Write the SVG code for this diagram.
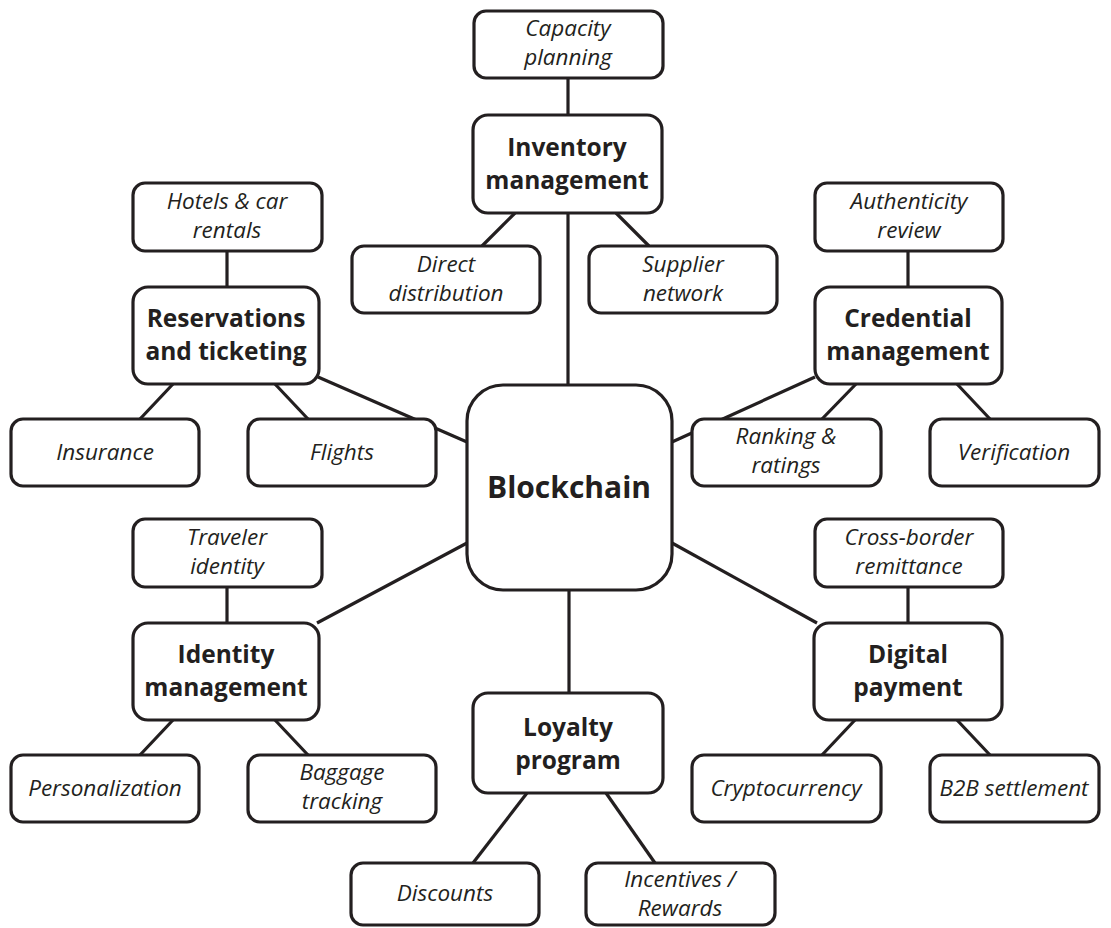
<svg xmlns="http://www.w3.org/2000/svg" width="1111" height="928" viewBox="0 0 1111 928">
<style>
.box{fill:#fff;stroke:#231f20;stroke-width:3.2}
.ln{stroke:#231f20;stroke-width:3.2;fill:none}
.it{font-family:"Open Sans","DejaVu Sans",sans-serif;font-style:italic;font-size:22.5px;fill:#231f20;text-anchor:middle}
.bd{font-family:"Open Sans","DejaVu Sans",sans-serif;font-weight:bold;font-size:24.5px;fill:#231f20;text-anchor:middle}
.main{font-family:"Open Sans","DejaVu Sans",sans-serif;font-weight:bold;font-size:30px;fill:#231f20;text-anchor:middle}
</style>
<rect width="1111" height="928" fill="#fff"/>
<g id="connectors">
<line class="ln" x1="568" y1="78" x2="568" y2="115"/>
<line class="ln" x1="515" y1="213" x2="482" y2="246"/>
<line class="ln" x1="616" y1="213" x2="649" y2="246"/>
<line class="ln" x1="568" y1="213" x2="568" y2="385"/>
<line class="ln" x1="227" y1="251" x2="227" y2="287"/>
<line class="ln" x1="173" y1="384" x2="140" y2="419"/>
<line class="ln" x1="275" y1="384" x2="308" y2="419"/>
<line class="ln" x1="318" y1="377" x2="467" y2="442"/>
<line class="ln" x1="908" y1="251" x2="908" y2="287"/>
<line class="ln" x1="856" y1="384" x2="822" y2="419"/>
<line class="ln" x1="957" y1="384" x2="990" y2="419"/>
<line class="ln" x1="815" y1="377" x2="672" y2="442"/>
<line class="ln" x1="227" y1="587" x2="227" y2="623"/>
<line class="ln" x1="173" y1="720" x2="140" y2="755"/>
<line class="ln" x1="275" y1="720" x2="308" y2="755"/>
<line class="ln" x1="317" y1="623" x2="467" y2="543"/>
<line class="ln" x1="908" y1="587" x2="908" y2="623"/>
<line class="ln" x1="855" y1="720" x2="822" y2="755"/>
<line class="ln" x1="957" y1="720" x2="990" y2="755"/>
<line class="ln" x1="817" y1="623" x2="672" y2="543"/>
<line class="ln" x1="569" y1="590" x2="569" y2="693"/>
<line class="ln" x1="527" y1="793" x2="473" y2="863"/>
<line class="ln" x1="606" y1="793" x2="655" y2="863"/>
</g>
<g id="blockchain"><rect class="box" x="467" y="385" width="205" height="205" rx="36"/><text class="main" x="569" y="498">Blockchain</text></g>
<g id="inventory"><rect class="box" x="473" y="115" width="189" height="98" rx="15"/><text class="bd" x="567" y="156">Inventory</text><text class="bd" x="567" y="189">management</text></g>
<g id="capacity"><rect class="box" x="474" y="11" width="189" height="67" rx="12"/><text class="it" x="568" y="36">Capacity</text><text class="it" x="568" y="65">planning</text></g>
<g id="direct"><rect class="box" x="352" y="246" width="188" height="67" rx="12"/><text class="it" x="446" y="272">Direct</text><text class="it" x="446" y="301">distribution</text></g>
<g id="supplier"><rect class="box" x="589" y="246" width="188" height="67" rx="12"/><text class="it" x="683" y="272">Supplier</text><text class="it" x="683" y="301">network</text></g>
<g id="reservations"><rect class="box" x="133" y="287" width="186" height="97" rx="15"/><text class="bd" x="226" y="327">Reservations</text><text class="bd" x="226" y="360">and ticketing</text></g>
<g id="hotels"><rect class="box" x="133" y="183" width="189" height="68" rx="12"/><text class="it" x="227" y="209">Hotels &amp; car</text><text class="it" x="227" y="238">rentals</text></g>
<g id="insurance"><rect class="box" x="11" y="419" width="188" height="67" rx="12"/><text class="it" x="105" y="460">Insurance</text></g>
<g id="flights"><rect class="box" x="248" y="419" width="188" height="67" rx="12"/><text class="it" x="342" y="460">Flights</text></g>
<g id="credential"><rect class="box" x="815" y="287" width="187" height="97" rx="15"/><text class="bd" x="908" y="327">Credential</text><text class="bd" x="908" y="360">management</text></g>
<g id="authenticity"><rect class="box" x="815" y="183" width="188" height="68" rx="12"/><text class="it" x="909" y="209">Authenticity</text><text class="it" x="909" y="238">review</text></g>
<g id="ranking"><rect class="box" x="692" y="419" width="189" height="67" rx="12"/><text class="it" x="786" y="444">Ranking &amp;</text><text class="it" x="786" y="473">ratings</text></g>
<g id="verification"><rect class="box" x="930" y="419" width="169" height="67" rx="12"/><text class="it" x="1014" y="460">Verification</text></g>
<g id="identity"><rect class="box" x="133" y="623" width="186" height="97" rx="15"/><text class="bd" x="226" y="663">Identity</text><text class="bd" x="226" y="696">management</text></g>
<g id="traveler"><rect class="box" x="133" y="519" width="189" height="68" rx="12"/><text class="it" x="227" y="545">Traveler</text><text class="it" x="227" y="574">identity</text></g>
<g id="personalization"><rect class="box" x="11" y="755" width="188" height="67" rx="12"/><text class="it" x="105" y="796">Personalization</text></g>
<g id="baggage"><rect class="box" x="248" y="755" width="188" height="67" rx="12"/><text class="it" x="342" y="780">Baggage</text><text class="it" x="342" y="809">tracking</text></g>
<g id="digital"><rect class="box" x="814" y="623" width="188" height="97" rx="15"/><text class="bd" x="908" y="663">Digital</text><text class="bd" x="908" y="696">payment</text></g>
<g id="crossborder"><rect class="box" x="815" y="519" width="188" height="68" rx="12"/><text class="it" x="909" y="545">Cross-border</text><text class="it" x="909" y="574">remittance</text></g>
<g id="crypto"><rect class="box" x="692" y="755" width="189" height="67" rx="12"/><text class="it" x="786" y="796">Cryptocurrency</text></g>
<g id="b2b"><rect class="box" x="930" y="755" width="169" height="67" rx="12"/><text class="it" x="1014" y="796">B2B settlement</text></g>
<g id="loyalty"><rect class="box" x="473" y="693" width="190" height="100" rx="15"/><text class="bd" x="568" y="736">Loyalty</text><text class="bd" x="568" y="769">program</text></g>
<g id="discounts"><rect class="box" x="351" y="863" width="188" height="62" rx="12"/><text class="it" x="445" y="901">Discounts</text></g>
<g id="incentives"><rect class="box" x="586" y="863" width="189" height="62" rx="12"/><text class="it" x="680" y="887">Incentives /</text><text class="it" x="680" y="916">Rewards</text></g>
</svg>
